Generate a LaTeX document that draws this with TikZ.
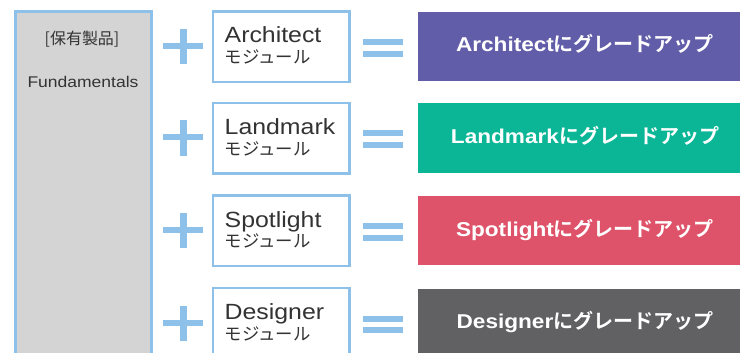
\documentclass[tikz,border=0pt]{standalone}
\usepackage{fontspec}
\setmainfont{Liberation Sans}
\newfontfamily\lat[FakeStretch=1.13]{Liberation Sans}
\newfontfamily\latb[FakeStretch=1.13]{Liberation Sans Bold}
\newfontfamily\cjk{Noto Sans CJK JP}
\newfontfamily\cjkb{Noto Sans CJK JP Bold}
\definecolor{lblue}{HTML}{8EC1E9}
\definecolor{gfill}{HTML}{D4D4D4}
\definecolor{tdark}{HTML}{333333}
\definecolor{cpurple}{HTML}{615DA8}
\definecolor{cteal}{HTML}{0BB697}
\definecolor{cred}{HTML}{DE5369}
\definecolor{cgray}{HTML}{616063}
\begin{document}
\begin{tikzpicture}[x=1pt,y=-1pt,
  modbox/.style={draw=lblue, line width=2.5pt, fill=white, minimum width=136.5pt, minimum height=70.5pt, inner sep=0pt, outer sep=0pt, anchor=north west},
  upbox/.style={minimum width=340pt, minimum height=69pt, inner sep=0pt, outer sep=0pt, anchor=north west},
  modtxt/.style={inner sep=0pt, text=tdark, font=\lat\fontsize{22}{26}\selectfont, anchor=base west},
  modsub/.style={inner sep=0pt, text=tdark, font=\cjk\fontsize{17.4}{20}\selectfont, anchor=base west},
  uptxt/.style={inner sep=0pt, text=white, font=\fontsize{20}{24}\selectfont, anchor=base},
  basetxt/.style={inner sep=0pt, text=tdark, anchor=base},
  sym/.style={fill=lblue}
]
\useasboundingbox (0,0) rectangle (740,353);
\clip (0,0) rectangle (740,353);
\fill[white] (0,0) rectangle (740,353);
% owned product box
\node[draw=lblue, fill=gfill, line width=2.7pt, minimum width=136pt, minimum height=370pt, inner sep=0pt, outer sep=0pt, anchor=north west] (base) at (15.3,11.3) {};
\node[basetxt, font=\cjk\fontsize{16}{19}\selectfont] (owned) at (82,45) {[保有製品]};
\node[basetxt, font=\lat\fontsize{15.5}{18}\selectfont] (fund) at (83,88) {Fundamentals};
\foreach \n/\col/\dy [count=\i] in {Architect/cpurple/0, Landmark/cteal/91.5, Spotlight/cred/184, Designer/cgray/276.5} {
  % plus sign
  \fill[sym] (163,43+\dy) rectangle (203,49+\dy);
  \fill[sym] (180,29+\dy) rectangle (187,64+\dy);
  % module box
  \node[modbox] (m\i) at (213,11.3+\dy) {};
  \node[modtxt] (ml\i) at (224.5,43+\dy) {\n};
  \node[modsub] (ms\i) at (224.5,63.5+\dy) {モジュール};
  % equals sign
  \fill[sym] (363,39+\dy) rectangle (403,45+\dy);
  \fill[sym] (363,50.7+\dy) rectangle (403,56.7+\dy);
  % upgrade box
  \node[upbox, fill=\col] (u\i) at (418,12+\dy) {};
  \node[uptxt] (ut\i) at (585,52+\dy) {{\latb \n}{\cjkb にグレードアップ}};
}
\end{tikzpicture}
\end{document}
